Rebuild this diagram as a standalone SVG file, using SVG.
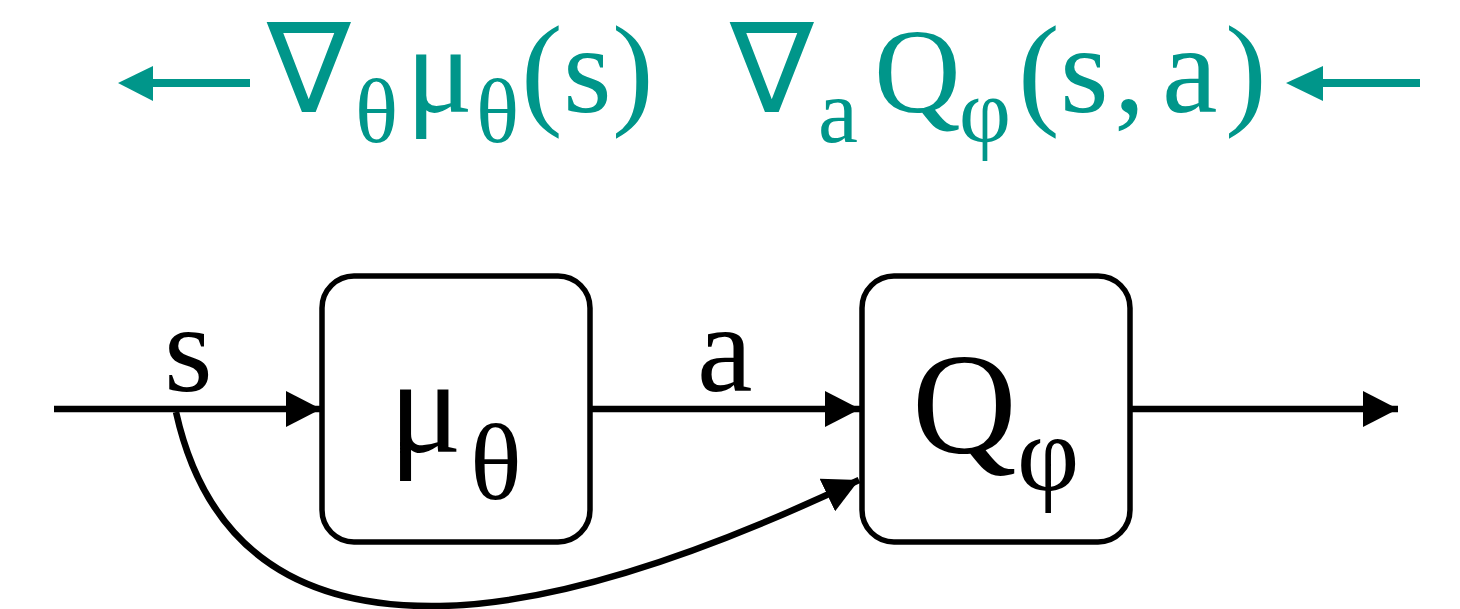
<svg xmlns="http://www.w3.org/2000/svg" width="1460" height="609" viewBox="0 0 1460 609">
<style>
.box{fill:#fff;stroke:#000;stroke-width:5.5}
.ln{fill:none;stroke:#000;stroke-width:6.5}
.teal{fill:#00968a}
</style>
<defs>
<marker id="ah" markerUnits="userSpaceOnUse" markerWidth="36" markerHeight="36" viewBox="0 0 36 36" refX="35" refY="18" orient="auto">
<path d="M0,0 L35,18 L0,36 Z" fill="#000"/>
</marker>
</defs>
<rect width="1460" height="609" fill="#fff"/>
<g id="grad-actor" class="teal">
<line x1="250" y1="83" x2="150" y2="83" stroke="#00968a" stroke-width="8"/>
<path d="M118,83 L153,66 L153,101 Z"/>
<text font-family="Liberation Serif" x="267" y="112" font-size="125">∇</text>
<text font-family="Liberation Serif" x="355" y="142" font-size="90">θ</text>
<text font-family="Liberation Serif" x="406" y="112" font-size="125">μ</text>
<text font-family="Liberation Serif" x="476" y="142" font-size="90">θ</text>
<text font-family="Liberation Serif" x="521" y="112" font-size="125">(</text>
<text font-family="Liberation Serif" x="563" y="112" font-size="125">s</text>
<text font-family="Liberation Serif" x="612" y="112" font-size="125">)</text>
</g>
<g id="grad-critic" class="teal">
<text font-family="Liberation Serif" x="730" y="112" font-size="125">∇</text>
<text font-family="Liberation Serif" x="818" y="142" font-size="90">a</text>
<text font-family="Liberation Serif" x="874" y="112" font-size="120">Q</text>
<text font-family="Liberation Serif" x="959" y="142" font-size="90">φ</text>
<text font-family="Liberation Serif" x="1018" y="112" font-size="125">(</text>
<text font-family="Liberation Serif" x="1060" y="112" font-size="125">s</text>
<text font-family="Liberation Serif" x="1114" y="112" font-size="125">,</text>
<text font-family="Liberation Serif" x="1162" y="112" font-size="125">a</text>
<text font-family="Liberation Serif" x="1225" y="112" font-size="125">)</text>
<line x1="1420" y1="83" x2="1320" y2="83" stroke="#00968a" stroke-width="8"/>
<path d="M1286,83 L1323,66 L1323,101 Z"/>
</g>
<g id="connectors">
<line class="ln" x1="54" y1="409" x2="321" y2="409" marker-end="url(#ah)"/>
<line class="ln" x1="590" y1="409" x2="860" y2="409" marker-end="url(#ah)"/>
<line class="ln" x1="1130" y1="409" x2="1398" y2="409" marker-end="url(#ah)"/>
<path class="ln" d="M176,412 Q220,610 440,606 Q600,603 859,480" marker-end="url(#ah)"/>
<text font-family="Liberation Serif" x="164" y="391" font-size="125">s</text>
<text font-family="Liberation Serif" x="697" y="391" font-size="125">a</text>
</g>
<g id="actor">
<rect class="box" x="322" y="276" width="268" height="266" rx="32"/>
<text font-family="Liberation Serif" x="389" y="452" font-size="136">μ</text>
<text font-family="Liberation Serif" x="470" y="499" font-size="108">θ</text>
</g>
<g id="critic">
<rect class="box" x="862" y="276" width="268" height="266" rx="32"/>
<text font-family="Liberation Serif" x="912" y="453" font-size="145">Q</text>
<text font-family="Liberation Serif" x="1017" y="490" font-size="108">φ</text>
</g>
</svg>
